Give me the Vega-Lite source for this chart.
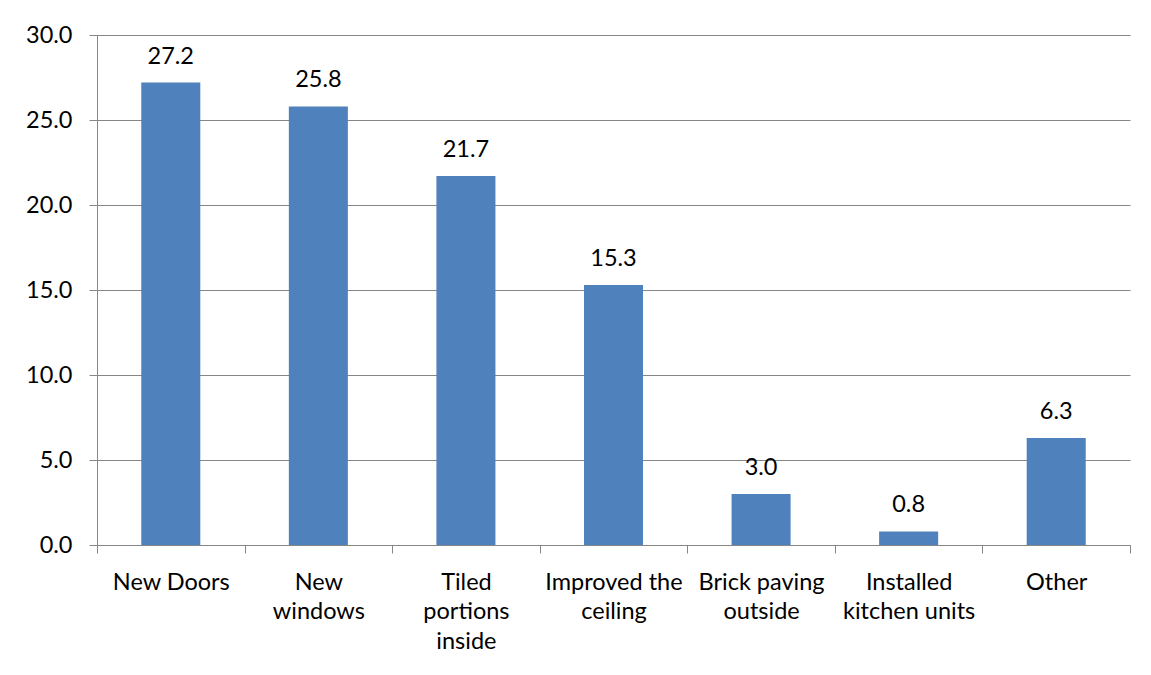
{
  "$schema": "https://vega.github.io/schema/vega-lite/v6.json",
  "width": 1033,
  "height": 510,
  "autosize": {"type": "none"},
  "padding": {"left": 97, "top": 35, "right": 21, "bottom": 130},
  "background": "white",
  "config": {
    "view": {"stroke": null},
    "font": "Lato",
    "axis": {
      "labelFont": "Lato",
      "labelFontSize": 23.5,
      "labelColor": "#000000",
      "domainColor": "#868686",
      "tickColor": "#868686",
      "gridColor": "#868686",
      "domainWidth": 1,
      "tickWidth": 1,
      "gridWidth": 1,
      "tickSize": 8,
      "title": null
    }
  },
  "data": {
    "values": [
      {"item": "New Doors", "pct": 27.2},
      {"item": "New windows", "pct": 25.8},
      {"item": "Tiled portions inside", "pct": 21.7},
      {"item": "Improved the ceiling", "pct": 15.3},
      {"item": "Brick paving outside", "pct": 3.0},
      {"item": "Installed kitchen units", "pct": 0.8},
      {"item": "Other", "pct": 6.3}
    ]
  },
  "encoding": {
    "x": {
      "field": "item",
      "type": "nominal",
      "sort": null,
      "scale": {"paddingInner": 0, "paddingOuter": 0},
      "axis": {
        "tickBand": "extent",
        "labelAngle": 0,
        "labelPadding": 17,
        "labelLineHeight": 29.5,
        "labelBaseline": "top",
        "labelOverlap": false,
        "labelLimit": 300,
        "labelBound": false,
        "labelExpr": "datum.label == 'New windows' ? ['New', 'windows'] : datum.label == 'Tiled portions inside' ? ['Tiled', 'portions', 'inside'] : datum.label == 'Improved the ceiling' ? ['Improved the', 'ceiling'] : datum.label == 'Brick paving outside' ? ['Brick paving', 'outside'] : datum.label == 'Installed kitchen units' ? ['Installed', 'kitchen units'] : datum.label"
      }
    },
    "y": {
      "field": "pct",
      "type": "quantitative",
      "scale": {"domain": [0, 30], "nice": false, "zero": true},
      "axis": {
        "values": [0, 5, 10, 15, 20, 25, 30],
        "format": ".1f",
        "labelPadding": 17,
        "grid": true
      }
    }
  },
  "layer": [
    {
      "mark": {"type": "bar", "color": "#4F81BD", "width": {"band": 0.4}}
    },
    {
      "mark": {
        "type": "text",
        "font": "Lato",
        "fontSize": 23.5,
        "color": "#000000",
        "baseline": "alphabetic",
        "dy": -19
      },
      "encoding": {
        "text": {"field": "pct", "type": "quantitative", "format": ".1f"}
      }
    }
  ]
}
